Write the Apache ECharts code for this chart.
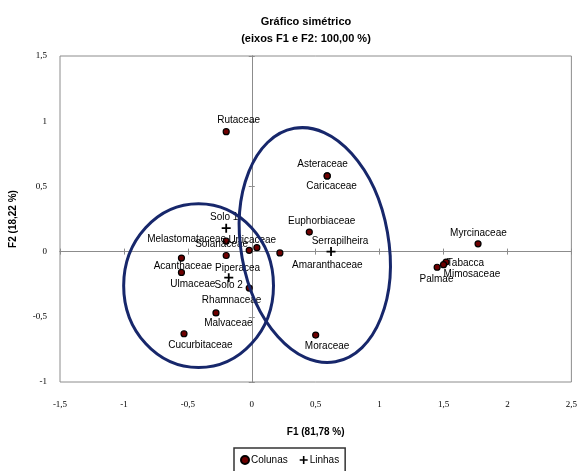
<!DOCTYPE html>
<html>
<head>
<meta charset="utf-8">
<script src="https://cdn.jsdelivr.net/npm/echarts@6/dist/echarts.min.js"></script>
<style>
  html, body { margin: 0; padding: 0; background: #fff; }
  #main { width: 580px; height: 471px; }
</style>
</head>
<body>
<div id="main"></div>
<script>
// Colunas (F1, F2)
const colNames = ['Rutaceae', 'Asteraceae', 'Caricaceae', 'Euphorbiaceae', 'Amaranthaceae', 'Urticaceae',
    'Solanaceae', 'Melastomataceae', 'Piperacea', 'Acanthaceae', 'Ulmaceae', 'Rhamnaceae', 'Malvaceae',
    'Cucurbitaceae', 'Moraceae', 'Myrcinaceae', 'Tabacca', 'Mimosaceae', 'Palmae'];
const colF1 = [-0.20, 0.59, 0.59, 0.45, 0.22, 0.04, -0.02, -0.20, -0.20, -0.55, -0.55, -0.02, -0.28,
    -0.53, 0.50, 1.77, 1.52, 1.50, 1.45];
const colF2 = [0.92, 0.58, 0.58, 0.15, -0.01, 0.03, 0.01, 0.08, -0.03, -0.05, -0.16, -0.28, -0.47,
    -0.63, -0.64, 0.06, -0.08, -0.10, -0.12];

// Linhas (F1, F2)
const linNames = ['Solo 1', 'Solo 2', 'Serrapilheira'];
const linF1 = [-0.20, -0.18, 0.62];
const linF2 = [0.18, -0.20, 0.00];

// ellipses drawn around the groups: centre, radii (axis units), tilt in degrees
const ellCx = [-0.416, 0.493];
const ellCy = [-0.261, 0.050];
const ellRx = [0.586, 0.577];
const ellRy = [0.628, 0.909];
const ellTilt = [0, 10];

// where each text sits relative to its point (px)
const labelShift = {
    'Rutaceae': [13, -11], 'Asteraceae': [-4, -11], 'Caricaceae': [5, 11], 'Euphorbiaceae': [13, -10],
    'Amaranthaceae': [48, 13], 'Urticaceae': [-4, -7], 'Solanaceae': [-27, -5], 'Melastomataceae': [-39, -1],
    'Piperacea': [12, 13], 'Acanthaceae': [2, 9], 'Ulmaceae': [12, 12], 'Rhamnaceae': [-17, 13],
    'Malvaceae': [13, 11], 'Cucurbitaceae': [17, 12], 'Moraceae': [12, 12], 'Myrcinaceae': [1, -10],
    'Tabacca': [20, 2], 'Mimosaceae': [29, 10], 'Palmae': [0, 13],
    'Solo 1': [-2, -11], 'Solo 2': [0, 8], 'Serrapilheira': [9, -10]
};

const plusIcon = 'path://M4,0H6V4H10V6H6V10H4V6H0V4H4Z';
const comma = v => String(v).replace('.', ',');

function points(names, xs, ys, size) {
    return names.map((n, i) => {
        const d = labelShift[n] || [0, 0];
        return {
            name: n,
            value: [xs[i], ys[i]],
            label: { position: [size / 2 + d[0], size / 2 + d[1]] }
        };
    });
}

const chart = echarts.init(document.getElementById('main'), null, { renderer: 'canvas' });

const hiddenAxis = {
    type: 'value', min: -1.5, max: 2.5, interval: 0.5,
    axisLabel: { show: false }, splitLine: { show: false }
};
const hiddenYAxis = {
    type: 'value', min: -1, max: 1.5, interval: 0.5,
    axisLabel: { show: false }, splitLine: { show: false }
};
const pointLabel = {
    show: true, formatter: '{b}', align: 'center', verticalAlign: 'middle',
    fontFamily: 'Liberation Sans', fontSize: 10, color: '#000'
};

chart.setOption({
    animation: false,
    backgroundColor: '#fff',
    title: {
        text: 'Gráfico simétrico\n(eixos F1 e F2: 100,00 %)',
        left: 301, top: 8, textAlign: 'center',
        textStyle: { fontFamily: 'Liberation Sans', fontSize: 11, fontWeight: 'bold', lineHeight: 17, color: '#000' }
    },
    grid: { left: 59, right: 6, top: 56, bottom: 89, show: true, borderColor: '#8c8c8c', borderWidth: 1 },
    legend: {
        data: [{ name: 'Colunas', icon: 'circle' }, { name: 'Linhas', icon: plusIcon }],
        left: 234, top: 448,
        itemWidth: 8, itemHeight: 8, itemGap: 12,
        padding: [7, 6, 10, 6],
        borderColor: '#333', borderWidth: 1.5,
        textStyle: { fontFamily: 'Liberation Sans', fontSize: 10, color: '#000', padding: [0, 0, 0, -3] }
    },
    xAxis: [{
        type: 'value', min: -1.5, max: 2.5, interval: 0.5,
        name: 'F1 (81,78 %)', nameLocation: 'middle', nameGap: 45,
        nameTextStyle: { fontFamily: 'Liberation Sans', fontSize: 10, fontWeight: 'bold', color: '#000' },
        axisLine: { show: false, onZero: false }, axisTick: { show: false }, splitLine: { show: false },
        axisLabel: { formatter: comma, margin: 18, fontFamily: 'Liberation Serif', fontSize: 9, color: '#000' }
    }, Object.assign({}, hiddenAxis, {
        axisLine: { onZero: true, lineStyle: { color: '#8c8c8c', width: 1 } },
        axisTick: { inside: false, length: 3, lineStyle: { color: '#8c8c8c' } }
    }), Object.assign({}, hiddenAxis, {
        axisLine: { onZero: true, lineStyle: { color: '#8c8c8c', width: 1 } },
        axisTick: { inside: true, length: 3, lineStyle: { color: '#8c8c8c' } }
    })],
    yAxis: [{
        type: 'value', min: -1, max: 1.5, interval: 0.5,
        name: 'F2 (18,22 %)', nameLocation: 'middle', nameGap: 42, nameRotate: 90,
        nameTextStyle: { fontFamily: 'Liberation Sans', fontSize: 10, fontWeight: 'bold', color: '#000' },
        axisLine: { show: false, onZero: false }, axisTick: { show: false }, splitLine: { show: false },
        axisLabel: { formatter: comma, margin: 13, fontFamily: 'Liberation Serif', fontSize: 9, color: '#000' }
    }, Object.assign({}, hiddenYAxis, {
        axisLine: { onZero: true, lineStyle: { color: '#8c8c8c', width: 1 } },
        axisTick: { inside: false, length: 3, lineStyle: { color: '#8c8c8c' } }
    }), Object.assign({}, hiddenYAxis, {
        axisLine: { onZero: true, lineStyle: { color: '#8c8c8c', width: 1 } },
        axisTick: { inside: true, length: 3, lineStyle: { color: '#8c8c8c' } }
    })],
    series: [{
        name: 'Colunas', type: 'scatter',
        symbol: 'circle', symbolSize: 6,
        itemStyle: { color: '#6e0000', borderColor: '#000', borderWidth: 1.2, opacity: 1 },
        label: pointLabel,
        labelLayout: { hideOverlap: false },
        data: points(colNames, colF1, colF2, 6),
        z: 3
    }, {
        name: 'Linhas', type: 'scatter',
        symbol: plusIcon, symbolSize: 9,
        itemStyle: { color: '#000', opacity: 1 },
        label: pointLabel,
        data: points(linNames, linF1, linF2, 9),
        z: 3
    }, {
        name: 'Elipses', type: 'custom', silent: true,
        encode: { x: 0, y: 1 },
        data: ellCx.map((c, i) => [c, ellCy[i], ellRx[i], ellRy[i], ellTilt[i]]),
        renderItem: function (params, api) {
            const c = api.coord([api.value(0), api.value(1)]);
            const s = api.size([api.value(2), api.value(3)]);
            return {
                type: 'ellipse',
                x: c[0], y: c[1],
                rotation: api.value(4) * Math.PI / 180,
                shape: { cx: 0, cy: 0, rx: s[0], ry: s[1] },
                style: { fill: 'none', stroke: '#17276b', lineWidth: 3 }
            };
        },
        z: 5
    }]
});
</script>
</body>
</html>
